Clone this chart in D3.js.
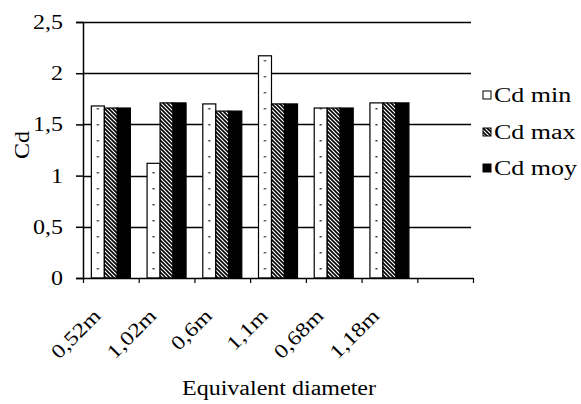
<!DOCTYPE html>
<html><head><meta charset="utf-8">
<script src="https://cdn.jsdelivr.net/npm/d3@7"></script>
<style>
html,body{margin:0;padding:0;background:#fff;}
svg{display:block;}
</style></head>
<body>
<svg id="chart" width="581" height="404"></svg>
<script>
// ---- data ----
const categories = ["0,52m","1,02m","0,6m","1,1m","0,68m","1,18m"];
const seriesNames = ["Cd min","Cd max","Cd moy"];
const cdMin = [1.68, 1.12, 1.70, 2.17, 1.66, 1.71];
const cdMax = [1.66, 1.71, 1.63, 1.70, 1.66, 1.71];
const cdMoy = [1.66, 1.71, 1.63, 1.70, 1.66, 1.71];
const yTicks = [0, 0.5, 1, 1.5, 2, 2.5];
const yTickLabels = ["0","0,5","1","1,5","2","2,5"];
const xTitle = "Equivalent diameter";
const yTitle = "Cd";

const FONT = "'Liberation Serif', 'Times New Roman', Tinos, 'DejaVu Serif', serif";
const svg = d3.select("#chart");
const plotL = 83, plotR = 473, plotT = 22, plotB = 278;
const nSlots = categories.length + 1; // one empty slot at the end

const y = d3.scaleLinear().domain([0, 2.5]).range([plotB, plotT]);
const xEdge = d3.scaleLinear().domain([0, nSlots]).range([plotL, plotR]);
const x0 = d3.scaleBand().domain(d3.range(nSlots)).range([plotL, plotR]).paddingInner(0).paddingOuter(0);
const groupPad = 0.15;
const x1 = d3.scaleBand().domain(d3.range(seriesNames.length))
  .range([x0.bandwidth()*groupPad, x0.bandwidth()*(1-groupPad)]).padding(0);

// patterns
const defs = svg.append("defs");
const hatch = defs.append("pattern").attr("id","hatch").attr("patternUnits","userSpaceOnUse")
  .attr("width",4).attr("height",4);
hatch.append("rect").attr("width",4).attr("height",4).attr("fill","#fff");
hatch.append("path").attr("d","M-1,-1 L5,5 M-1,3 L1,5 M3,-1 L5,1")
  .attr("stroke","#000").attr("stroke-width",1.6);

const values = [cdMin, cdMax, cdMoy];

// gridlines
svg.append("g").selectAll("line").data(yTicks.slice(1)).join("line")
  .attr("x1", plotL).attr("x2", plotR - 2)
  .attr("y1", d => Math.round(y(d)) + 0.5).attr("y2", d => Math.round(y(d)) + 0.5)
  .attr("stroke", "#000").attr("stroke-width", 1.5);

// bars
const bars = [];
categories.forEach((c, i) => {
  values.forEach((arr, s) => {
    bars.push({i, s, v: arr[i]});
  });
});
bars.forEach((b, k) => {
  if (b.s === 0) {
    const bx = x0(b.i) + x1(b.s);
    const p = defs.append("pattern").attr("id","pmin"+k).attr("patternUnits","userSpaceOnUse")
      .attr("x", bx).attr("y", plotB).attr("width", x1.bandwidth()).attr("height", 16);
    p.append("rect").attr("width", x1.bandwidth()).attr("height", 16).attr("fill","#fff");
    p.append("rect").attr("x", x1.bandwidth()/2 - 1).attr("y", 6).attr("width", 2).attr("height", 1.5).attr("fill","#333");
  }
});
svg.append("g").selectAll("rect").data(bars).join("rect")
  .attr("x", d => x0(d.i) + x1(d.s))
  .attr("width", x1.bandwidth())
  .attr("y", d => y(d.v))
  .attr("height", d => y(0) - y(d.v))
  .attr("fill", (d, k) => d.s === 0 ? `url(#pmin${k})` : d.s === 1 ? "url(#hatch)" : "#000")
  .attr("stroke", "#000").attr("stroke-width", 1.2);

// y axis
const yAxis = svg.append("g").attr("transform", `translate(${plotL},0)`)
  .call(d3.axisLeft(y).tickValues(yTicks).tickFormat((d, i) => yTickLabels[i]).tickSize(7).tickPadding(13));
yAxis.attr("font-family", FONT).attr("font-size", 20);
yAxis.select(".domain").attr("stroke","#000").attr("stroke-width",1.5);
yAxis.selectAll(".tick line").attr("stroke","#000").attr("stroke-width",1.5);
yAxis.selectAll(".tick text").attr("font-family", FONT).attr("font-size", 20).attr("fill","#000").classed("stretch", true);

// x axis
const xAxis = svg.append("g").attr("transform", `translate(0,${plotB})`)
  .call(d3.axisBottom(xEdge).tickValues(d3.range(nSlots + 1)).tickFormat("").tickSize(5).tickSizeOuter(0));
xAxis.select(".domain").attr("stroke","#000").attr("stroke-width",1.5);
xAxis.selectAll(".tick line").attr("stroke","#000").attr("stroke-width",1.2);

// x labels rotated
svg.append("g").selectAll("text").data(categories).join("text")
  .attr("transform", (d, i) => `translate(${x0(i) + x0.bandwidth()/2 - 9},${plotB + 39}) rotate(-45)`)
  .attr("text-anchor", "end").attr("font-family", FONT).attr("font-size", 20).classed("stretch", true)
  .text(d => d);

// axis titles
svg.append("text").attr("x", 279).attr("y", 395).attr("text-anchor","middle")
  .attr("font-family", FONT).attr("font-size", 20).classed("stretch", true).text(xTitle);
svg.append("text").attr("transform", "translate(29,145) rotate(-90)").attr("text-anchor","middle")
  .attr("font-family", FONT).attr("font-size", 20).classed("stretch", true).text(yTitle);

// legend
const legendY = [95, 132, 168];
const lg = svg.append("g").selectAll("g").data(seriesNames).join("g")
  .attr("transform", (d, i) => `translate(483,${legendY[i]})`);
lg.append("rect").attr("x", 0).attr("y", -4).attr("width", 8).attr("height", 8)
  .attr("fill", (d, i) => i === 0 ? "#fff" : i === 1 ? "url(#hatch)" : "#000")
  .attr("stroke", "#000").attr("stroke-width", 1);
lg.append("text").attr("x", 11).attr("dy", "0.33em").attr("font-family", FONT).attr("font-size", 20)
  .classed("stretch-wide", true).text(d => d);

// horizontal stretch to mimic the wide serif face
svg.selectAll("text.stretch").each(function() {
  const L = this.getComputedTextLength();
  d3.select(this).attr("textLength", L * 1.2).attr("lengthAdjust", "spacingAndGlyphs");
});
svg.selectAll("text.stretch-wide").each(function() {
  const L = this.getComputedTextLength();
  d3.select(this).attr("textLength", L * 1.3).attr("lengthAdjust", "spacingAndGlyphs");
});
</script>
</body></html>
